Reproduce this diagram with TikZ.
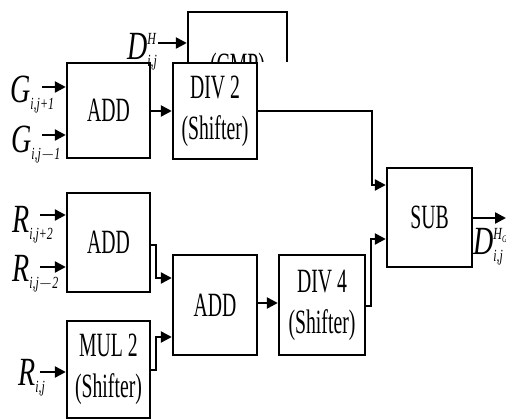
\documentclass[tikz,border=0pt]{standalone}
\usepackage{fontspec}
\setmainfont{Liberation Serif}
\newfontfamily\boxfont[FakeStretch=0.58]{Liberation Serif}
\newfontfamily\lblfont[FakeStretch=0.7]{Liberation Serif}
\usetikzlibrary{arrows.meta}

% signal name: big italic letter with superscript and subscript
\newcommand{\sig}[3]{{\fontsize{40}{40}\selectfont\lblfont\itshape #1}%
  \rlap{\raisebox{15pt}{\fontsize{17}{17}\selectfont\lblfont\itshape #2}}%
  \raisebox{-7pt}{\fontsize{17}{17}\selectfont\lblfont\itshape #3}}

\tikzset{
  blk/.style={draw, line width=2.4pt, fill=white, inner sep=0pt, align=center,
    font=\boxfont\fontsize{34}{41}\selectfont},
  wire/.style={line width=2.4pt, -{Triangle[length=11pt,width=11pt]}},
  lbl/.style={anchor=base west, inner sep=0pt}
}

\begin{document}
\begin{tikzpicture}[x=1pt, y=-1pt]
\useasboundingbox (0,0) rectangle (506,419);

% comparator block, cut off at the top of the adder row
\begin{scope}
  \clip (150,0) rectangle (300,62);
  \node[blk, minimum width=99pt, minimum height=112pt] (cmp) at (237.5,68) {(CMP)};
\end{scope}

% blocks
\node[blk, minimum width=83pt, minimum height=95pt]  (addG) at (108.5,110.5) {ADD};
\node[blk, minimum width=84pt, minimum height=96pt]  (div2) at (215,111) {DIV 2\\(Shifter)};
\node[blk, minimum width=83pt, minimum height=99pt]  (addR) at (108.5,242.5) {ADD};
\node[blk, minimum width=83pt, minimum height=97pt]  (mul2) at (108.5,369.5) {MUL 2\\(Shifter)};
\node[blk, minimum width=84pt, minimum height=100pt] (addM) at (215,305) {ADD};
\node[blk, minimum width=86pt, minimum height=100pt] (div4) at (322,305) {DIV 4\\(Shifter)};
\node[blk, minimum width=85pt, minimum height=99pt]  (sub)  at (429.5,217.5) {SUB};

% input labels
\node[lbl] (g1) at (10,103) {\sig{G}{}{i,j+1}};
\node[lbl] (g2) at (11,153) {\sig{G}{}{i,j$-$1}};
\node[lbl] (r1) at (12,233) {\sig{R}{}{i,j+2}};
\node[lbl] (r2) at (12,282) {\sig{R}{}{i,j$-$2}};
\node[lbl] (r3) at (18,385) {\sig{R}{}{i,j}};
\node[lbl] (dh) at (127,60) {\sig{D}{H}{i,j}};
\node[lbl] (dout) at (473,255) {\sig{D}{H\raisebox{-3pt}{\fontsize{10}{10}\selectfont G}}{i,j}};

% wire end points
\coordinate (g1s) at (42,87);
\coordinate (g2s) at (42,135);
\coordinate (r1s) at (40,215);
\coordinate (r2s) at (40,267);
\coordinate (r3s) at (40,372);
\coordinate (dhs) at (158,43);
\coordinate (out) at (506,218);

% inputs
\draw[wire] (g1s) -- (g1s -| addG.west);
\draw[wire] (g2s) -- (g2s -| addG.west);
\draw[wire] (r1s) -- (r1s -| addR.west);
\draw[wire] (r2s) -- (r2s -| addR.west);
\draw[wire] (r3s) -- (r3s -| mul2.west);
\draw[wire] (dhs) -- (dhs -| cmp.west);

% G path
\draw[wire] (addG.east |- 0,111) -- (div2.west |- 0,111);
\draw[wire] (div2.east |- 0,111) -- (372,111) -- (372,185) -- (sub.west |- 0,185);

% R path
\draw[wire] (addR.east |- 0,245) -- (156,245) -- (156,278) -- (addM.west |- 0,278);
\draw[wire] (mul2.east |- 0,370) -- (156,370) -- (156,337) -- (addM.west |- 0,337);
\draw[wire] (addM.east |- 0,303) -- (div4.west |- 0,303);
\draw[wire] (div4.east |- 0,306) -- (371,306) -- (371,239) -- (sub.west |- 0,239);

% output
\draw[wire] (sub.east |- out) -- (out);
\end{tikzpicture}
\end{document}
